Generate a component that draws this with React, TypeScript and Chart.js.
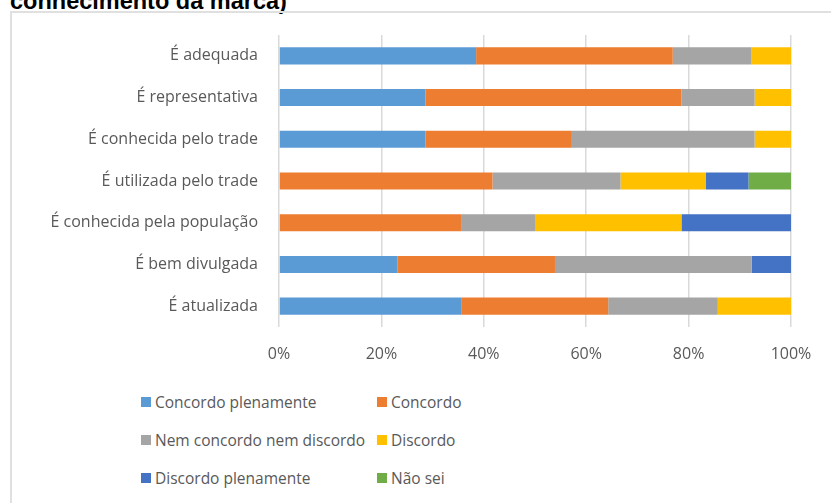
import React, { useEffect, useRef } from "react";
import { Chart, registerables } from "chart.js";

Chart.register(...registerables);

const categories = [
  "É adequada",
  "É representativa",
  "É conhecida pelo trade",
  "É utilizada pelo trade",
  "É conhecida pela população",
  "É bem divulgada",
  "É atualizada",
];

const seriesNames = [
  "Concordo plenamente",
  "Concordo",
  "Nem concordo nem discordo",
  "Discordo",
  "Discordo plenamente",
  "Não sei",
];

const concordoPlenamente = [38.5, 28.6, 28.6, 0, 0, 23.1, 35.7];
const concordo = [38.4, 50.0, 28.6, 41.7, 35.7, 30.8, 28.6];
const nemNem = [15.4, 14.3, 35.7, 25.0, 14.3, 38.4, 21.4];
const discordo = [7.7, 7.1, 7.1, 16.7, 28.6, 0, 14.3];
const discordoPlenamente = [0, 0, 0, 8.3, 21.4, 7.7, 0];
const naoSei = [0, 0, 0, 8.3, 0, 0, 0];

const seriesValues = [concordoPlenamente, concordo, nemNem, discordo, discordoPlenamente, naoSei];
const seriesColors = ["#5B9BD5", "#ED7D31", "#A5A5A5", "#FFC000", "#4472C4", "#70AD47"];

const xTicks = [0, 20, 40, 60, 80, 100];

const FONT = "'Open Sans', sans-serif";

export default function App() {
  const ref = useRef<HTMLCanvasElement | null>(null);

  useEffect(() => {
    if (!ref.current) return;
    const chart = new Chart(ref.current, {
      type: "bar",
      data: {
        labels: categories,
        datasets: seriesNames.map((name, i) => ({
          label: name,
          data: seriesValues[i],
          backgroundColor: seriesColors[i],
          borderWidth: 0,
          barPercentage: 0.41,
          categoryPercentage: 1,
        })),
      },
      options: {
        indexAxis: "y",
        responsive: false,
        animation: false,
        maintainAspectRatio: false,
        layout: { padding: { top: 35, right: 40, left: 0, bottom: 0 } },
        plugins: { legend: { display: false }, tooltip: { enabled: false } },
        scales: {
          x: {
            stacked: true,
            min: 0,
            max: 100,
            afterBuildTicks: (scale: any) => {
              scale.ticks = xTicks.map((v) => ({ value: v }));
            },
            afterFit: (scale: any) => {
              scale.height = 53;
            },
            grid: { color: "#d9d9d9", lineWidth: 1.5, drawTicks: false },
            border: { display: false },
            ticks: {
              padding: 18,
              color: "#595959",
              font: { family: FONT, size: 16 },
              callback: (v: any) => v + "%",
            },
          },
          y: {
            stacked: true,
            afterFit: (scale: any) => {
              scale.width = 279;
            },
            grid: { display: false, drawTicks: false },
            border: { display: false },
            ticks: {
              padding: 21,
              color: "#595959",
              font: { family: FONT, size: 16 },
            },
          },
        },
      },
    });
    return () => chart.destroy();
  }, []);

  return (
    <div style={{ position: "fixed", left: 0, top: 0, width: 831, height: 503, overflow: "hidden", background: "#fff" }}>
      <div
        style={{
          position: "absolute",
          left: 10,
          top: -10.5,
          font: "bold 23.5px 'Liberation Sans', Arial, sans-serif",
          lineHeight: "23px",
          whiteSpace: "nowrap",
          color: "#000",
        }}
      >
        conhecimento da marca)
      </div>
      <div
        style={{
          position: "absolute",
          left: 10,
          top: 11,
          width: 900,
          height: 600,
          borderLeft: "2px solid #e0e0e0",
          borderTop: "2px solid #e0e0e0",
          boxSizing: "border-box",
        }}
      />
      <canvas ref={ref} width={831} height={380} style={{ position: "absolute", left: 0, top: 0 }} />
      <div
        style={{
          position: "absolute",
          left: 141,
          top: 383,
          display: "grid",
          gridTemplateColumns: "236px 236px",
          gridAutoRows: "38px",
          font: `15.5px ${FONT}`,
          color: "#595959",
        }}
      >
        {seriesNames.map((name, i) => (
          <div key={name} style={{ display: "flex", alignItems: "center", whiteSpace: "nowrap" }}>
            <span style={{ width: 10, height: 10, background: seriesColors[i], marginRight: 4, display: "inline-block" }} />
            <span>{name}</span>
          </div>
        ))}
      </div>
    </div>
  );
}
